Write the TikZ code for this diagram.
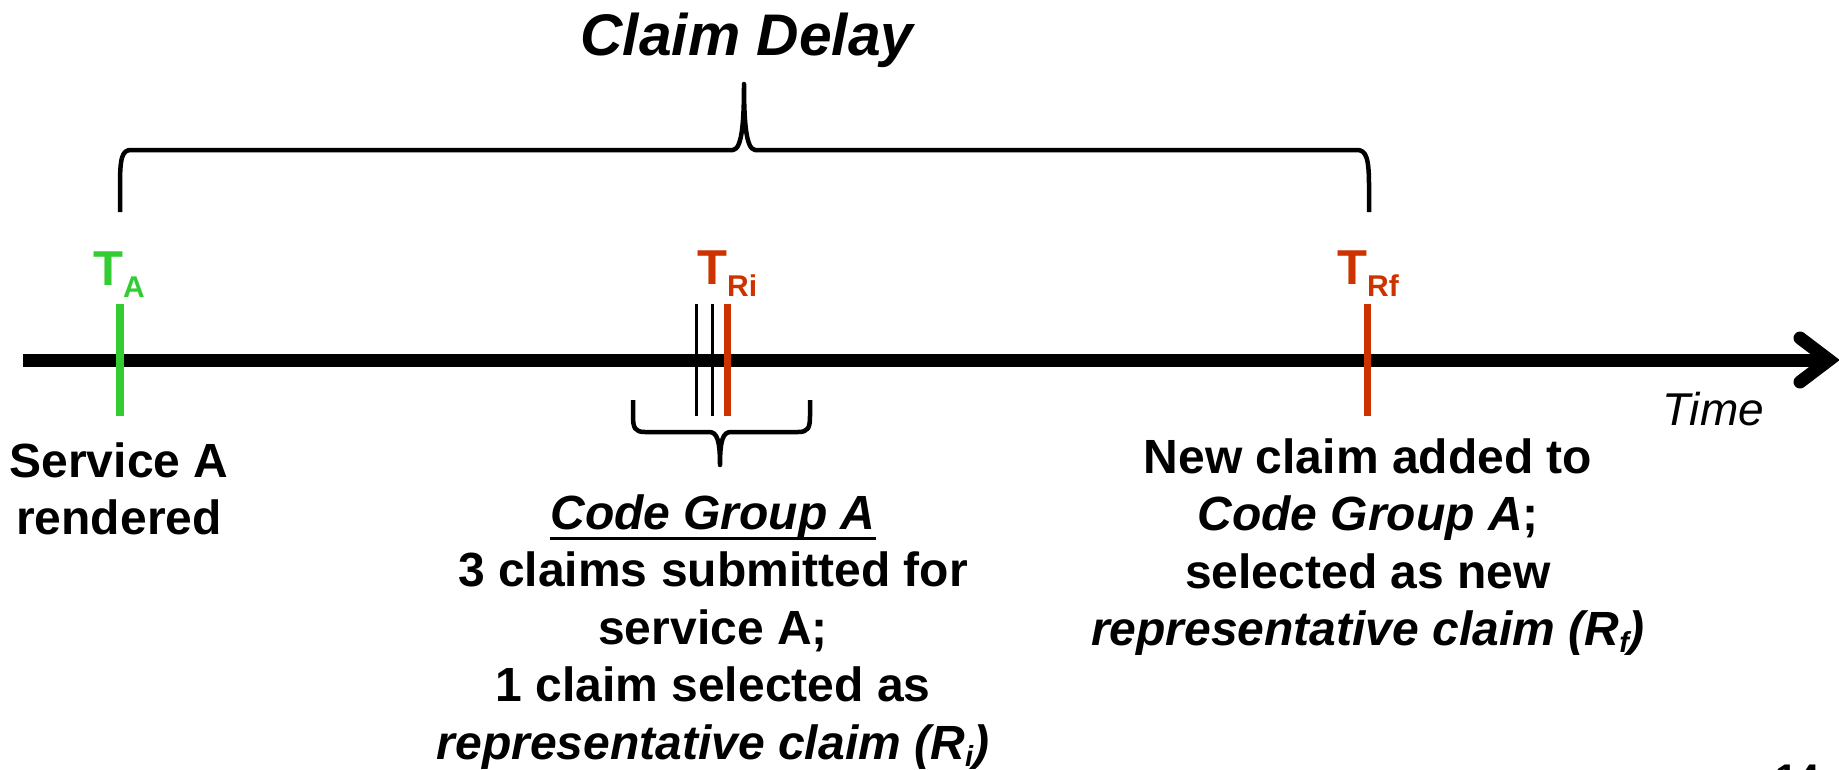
\documentclass[tikz,border=0pt]{standalone}
\usepackage{fontspec}
\setmainfont{Liberation Sans}
\definecolor{tgreen}{HTML}{33CC33}
\definecolor{tred}{HTML}{CC3300}
\newcommand\bigsz{\fontsize{48}{57.6}\selectfont}
\newcommand\ulx[1]{\setbox0\hbox{#1}\rlap{\rule[-11pt]{\wd0}{3.5pt}}\box0}
\newcommand\subx[1]{\raisebox{-7pt}{\fontsize{29}{29}\selectfont #1}}
\newcommand\tsub[1]{\raisebox{-12pt}{\fontsize{30}{30}\selectfont #1}}
\tikzset{
  lbl/.style={inner sep=0pt, anchor=base, font=\bigsz\bfseries},
  tlabel/.style={inner sep=0pt, anchor=base west, font=\fontsize{49}{49}\selectfont\bfseries},
  tick/.style={line width=7pt},
  thin tick/.style={line width=3pt, black},
  bracepath/.style={line width=4.5pt, line join=round, line cap=butt},
}
\begin{document}
\begin{tikzpicture}[x=1pt,y=-1pt]
\useasboundingbox (0,0) rectangle (1839,769);
% timeline
\coordinate (t0) at (23,360);
\coordinate (t1) at (1829,360);
\draw[line width=13pt] (t0) -- (t1);
\coordinate (a1) at (1800,338);
\coordinate (a2) at (1800,382);
\draw[line width=13pt, line cap=round, line join=miter] (a1) -- (t1) -- (a2);
% ticks
\coordinate (ta0) at (120,304); \coordinate (ta1) at (120,416);
\draw[tick, line width=8pt, tgreen] (ta0) -- (ta1);
\coordinate (b10) at (696,304); \coordinate (b11) at (696,416);
\coordinate (b20) at (712,304); \coordinate (b21) at (712,416);
\draw[thin tick] (b10) -- (b11);
\draw[thin tick] (b20) -- (b21);
\coordinate (ri0) at (727,304); \coordinate (ri1) at (727,416);
\draw[tick, tred] (ri0) -- (ri1);
\coordinate (rf0) at (1367,304); \coordinate (rf1) at (1367,416);
\draw[tick, tred] (rf0) -- (rf1);
% tick labels
\node[tlabel, tgreen] (lTA) at (93,285) {T\tsub{A}};
\node[tlabel, tred] (lTRi) at (697,284) {T\tsub{Ri}};
\node[tlabel, tred] (lTRf) at (1337,284) {T\tsub{Rf}};
% top brace
\draw[bracepath] (120,212) -- (120,185) .. controls (120,158) and (122,150) .. (131,150)
  -- (733,150) .. controls (742,149) and (744,122) .. (744,84)
  .. controls (744,122) and (746,149) .. (755,150)
  -- (1357,150) .. controls (1366,150) and (1369,158) .. (1369,185) -- (1369,212);
% small brace
\draw[bracepath] (633,400) -- (633,416) .. controls (633,428) and (635,432) .. (645,432)
  -- (709,432) .. controls (717,432) and (720,440) .. (720,465)
  .. controls (720,440) and (723,432) .. (731,432)
  -- (798,432) .. controls (808,432) and (810,428) .. (810,416) -- (810,400);
% texts
\node[inner sep=0pt, anchor=base, font=\fontsize{58.7}{60}\selectfont\bfseries\itshape] (title) at (747,55) {Claim Delay};
\node[inner sep=0pt, anchor=base west, font=\fontsize{46}{50}\selectfont\itshape] (time) at (1662,425) {Time};
\node[lbl] (svc) at (119,477) {\begin{tabular}[t]{@{}c@{}}Service A\\ rendered\end{tabular}};
\node[lbl] (grp) at (713,529) {\begin{tabular}[t]{@{}c@{}}\ulx{\textit{Code Group A}}\\ 3 claims submitted for\\ service A;\\ 1 claim selected as\\ \textit{representative claim (R\subx{i})}\end{tabular}};
\node[lbl] (newc) at (1368,473) {\begin{tabular}[t]{@{}c@{}}New claim added to\\ \textit{Code Group A};\\ selected as new\\ \textit{representative claim (R\subx{f})}\end{tabular}};
\node[inner sep=0pt, anchor=base west, font=\fontsize{40}{40}\selectfont\bfseries] (page) at (1775,792) {14};
\end{tikzpicture}
\end{document}
